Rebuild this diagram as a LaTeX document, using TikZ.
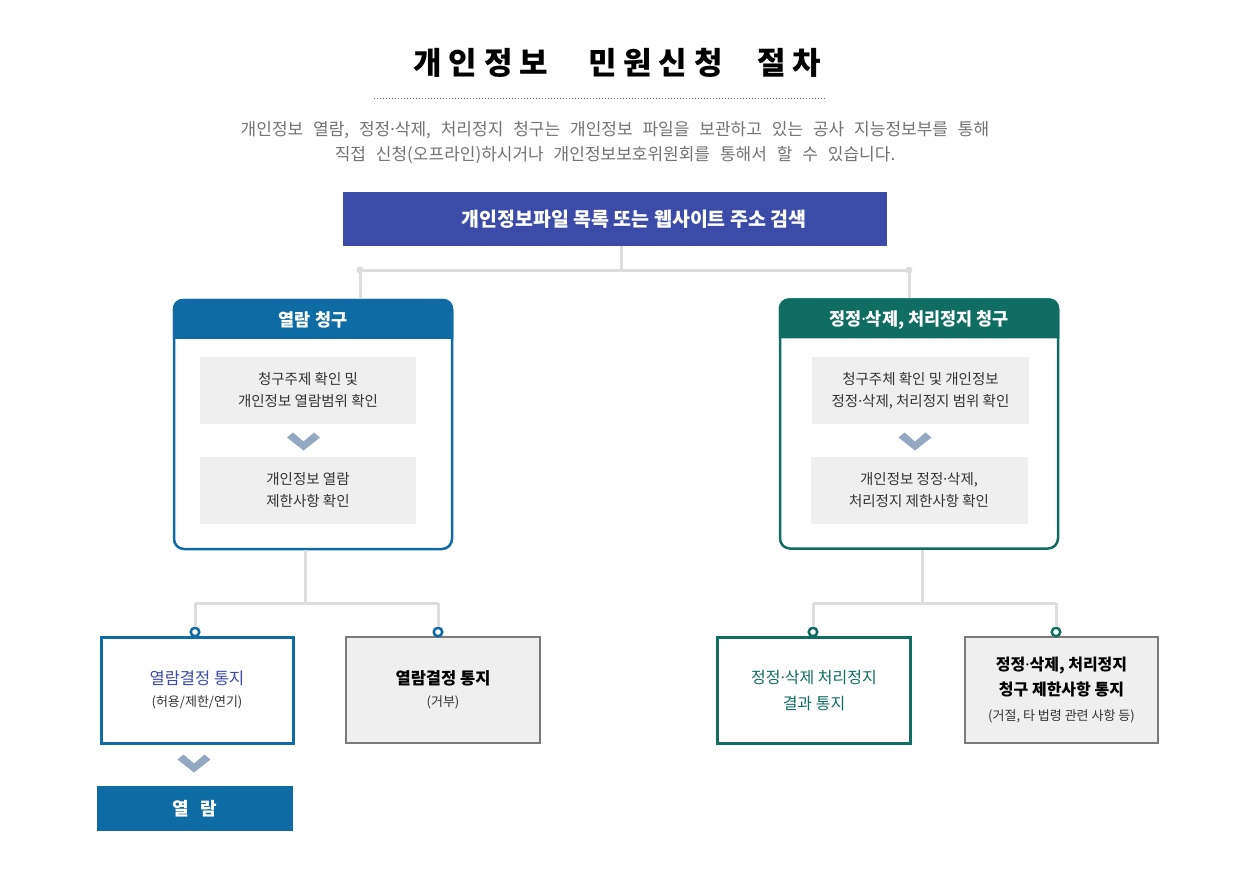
\documentclass[tikz,border=0pt]{standalone}
\usepackage{fontspec}
\setmainfont{Noto Sans CJK KR}
\newfontfamily\titlefont{Noto Sans CJK KR}[LetterSpace=22]
\newfontfamily\introfont{Noto Sans CJK KR}[WordSpace=2.6]
\newfontfamily\latinfont{Noto Sans}
\newcommand\mdot{{\latinfont ·}}

\definecolor{navy}{HTML}{3B4BA8}
\definecolor{seablue}{HTML}{0E6BA4}
\definecolor{pine}{HTML}{0F6E61}
\definecolor{paper}{HTML}{EFEFEF}
\definecolor{ink}{HTML}{333333}
\definecolor{chevc}{HTML}{94A8C4}
\definecolor{wirec}{HTML}{DDDDDD}
\definecolor{frame}{HTML}{7A7A7A}

\tikzset{
    wire/.style={wirec, line width=3pt},
    chev/.style={fill=chevc},
    panel/.style={draw=#1, fill=white, line width=2.5pt, rounded corners=10pt,
        minimum width=278pt, minimum height=249pt},
    hdr/.style={text=white, font=\bfseries\fontsize{17.5}{20}\selectfont},
    inbox/.style={fill=paper, minimum width=216pt, minimum height=67pt, align=center,
        text=ink, font=\fontsize{14.5}{22}\selectfont},
    result/.style={draw=#1, line width=3pt, minimum width=192pt, minimum height=106pt,
        align=center},
    pin/.style={draw=#1, fill=white, line width=2.5pt, circle, inner sep=0pt,
        minimum size=8.5pt},
}

\begin{document}
\begin{tikzpicture}[x=1pt, y=-1pt]
    \useasboundingbox[fill=white] (0,0) rectangle (1260,891);

    % title and intro
    \node[font=\titlefont\bfseries\fontsize{31}{33}\selectfont] (title) at (617.5,63)
        {개인정보\hspace{26pt} 민원신청\hspace{21pt} 절차};
    \draw[dotted, line width=1pt, black!60] (374,98) -- (825,98);
    \node[align=center, text=black!55, font=\introfont\fontsize{17}{25}\selectfont] (intro) at (615,143)
        {개인정보 열람, 정정\mdot 삭제, 처리정지 청구는 개인정보 파일을 보관하고 있는 공사 지능정보부를 통해\\
         직접 신청(오프라인)하시거나 개인정보보호위원회를 통해서 할 수 있습니다.};

    \node[fill=navy, minimum width=544pt, minimum height=54pt] (top) at (615,219) {};
    \node[text=white, font=\bfseries\fontsize{19.5}{22}\selectfont] (topl) at (634,219) {개인정보파일 목록 또는 웹사이트 주소 검색};

    % panels
    \node[panel=seablue] (ya) at (313,424.5) {};
    \fill[seablue] ([yshift=-40pt]ya.north west) [rounded corners=10pt] -- (ya.north west)
        -- (ya.north east) [sharp corners] -- ([yshift=-40pt]ya.north east) -- cycle;
    \node[hdr] (yah) at (313,320) {열람 청구};
    \node[inbox] (ya1) at (308,390.5) {청구주제 확인 및\\개인정보 열람범위 확인};
    \node[inbox] (ya2) at (308,490.5) {개인정보 열람\\제한사항 확인};

    \node[panel=pine] (ja) at (919,424) {};
    \fill[pine] ([yshift=-40pt]ja.north west) [rounded corners=10pt] -- (ja.north west)
        -- (ja.north east) [sharp corners] -- ([yshift=-40pt]ja.north east) -- cycle;
    \node[hdr] (jah) at (919,320) {정정\mdot 삭제, 처리정지 청구};
    \node[inbox, minimum width=217pt] (ja1) at (920.5,390.5) {청구주체 확인 및 개인정보\\정정\mdot 삭제, 처리정지 범위 확인};
    \node[inbox, minimum width=217pt] (ja2) at (919,490.5) {개인정보 정정\mdot 삭제,\\처리정지 제한사항 확인};

    % chevrons
    \coordinate (v1) at (303.5,441);
    \coordinate (v2) at (915,441);
    \coordinate (v3) at (194,763);
    \fill[chev] (v1) ++(-16.5,-3.5) -- ++(6,-5) -- ++(10.5,9) -- ++(10.5,-9) -- ++(6,5) -- ++(-16.5,13) -- cycle;
    \fill[chev] (v2) ++(-16.5,-3.5) -- ++(6,-5) -- ++(10.5,9) -- ++(10.5,-9) -- ++(6,5) -- ++(-16.5,13) -- cycle;
    \fill[chev] (v3) ++(-16.5,-3.5) -- ++(6,-5) -- ++(10.5,9) -- ++(10.5,-9) -- ++(6,5) -- ++(-16.5,13) -- cycle;

    % results
    \node[result=seablue, fill=white] (r1) at (197,690)
        {{\color{navy}\fontsize{16.5}{22}\selectfont 열람결정 통지}\\[9pt]{\color{ink}\fontsize{13}{16}\selectfont (허용/제한/연기)}};
    \node[result=frame, fill=paper, line width=2.5pt, minimum width=194pt] (r2) at (443,690)
        {{\bfseries\fontsize{16.5}{22}\selectfont 열람결정 통지}\\[9pt]{\color{ink}\fontsize{13}{16}\selectfont (거부)}};
    \node[result=pine, fill=white, minimum width=193pt, text=pine, font=\fontsize{16}{26}\selectfont] (r3) at (814,690)
        {정정\mdot 삭제 처리정지\\결과 통지};
    \node[result=frame, fill=paper, line width=2.5pt, minimum width=193pt, font=\bfseries\fontsize{16}{25}\selectfont] (r4) at (1061.5,690)
        {정정\mdot 삭제, 처리정지\\청구 제한사항 통지\\{\mdseries\color{ink}\fontsize{13}{18}\selectfont (거절, 타 법령 관련 사항 등)}};

    \node[fill=seablue, text=white, minimum width=196pt, minimum height=45pt,
        font=\bfseries\fontsize{18}{20}\selectfont] (view) at (195,808.5) {열\hspace{11pt}람};

    % wires
    \coordinate (tm) at (621,270);
    \coordinate (tl) at (360,270);
    \coordinate (tr) at (909,270);
    \draw[wire] (tm |- top.south) -- (tm);
    \draw[wire] (tl) -- (tr);
    \draw[wire] (tl) -- (tl |- ya.north);
    \draw[wire] (tr) -- (tr |- ja.north);
    \fill[wirec] (tl) circle (3.5pt);
    \fill[wirec] (tr) circle (3.5pt);

    \coordinate (bm1) at (305,603);
    \coordinate (bl1) at (195,603);
    \coordinate (bl2) at (438,603);
    \coordinate (bm2) at (922,603);
    \coordinate (br1) at (813,603);
    \coordinate (br2) at (1056,603);
    \draw[wire] (bm1 |- ya.south) -- (bm1);
    \draw[wire] (bl1) -- (bl2);
    \draw[wire] (bm2 |- ja.south) -- (bm2);
    \draw[wire] (br1) -- (br2);

    \node[pin=seablue] (p1) at (195,632) {};
    \node[pin=seablue] (p2) at (438,632) {};
    \node[pin=pine] (p3) at (813,632) {};
    \node[pin=pine] (p4) at (1056,632) {};
    \draw[wire] (bl1) -- (p1);
    \draw[wire] (bl2) -- (p2);
    \draw[wire] (br1) -- (p3);
    \draw[wire] (br2) -- (p4);
\end{tikzpicture}
\end{document}
